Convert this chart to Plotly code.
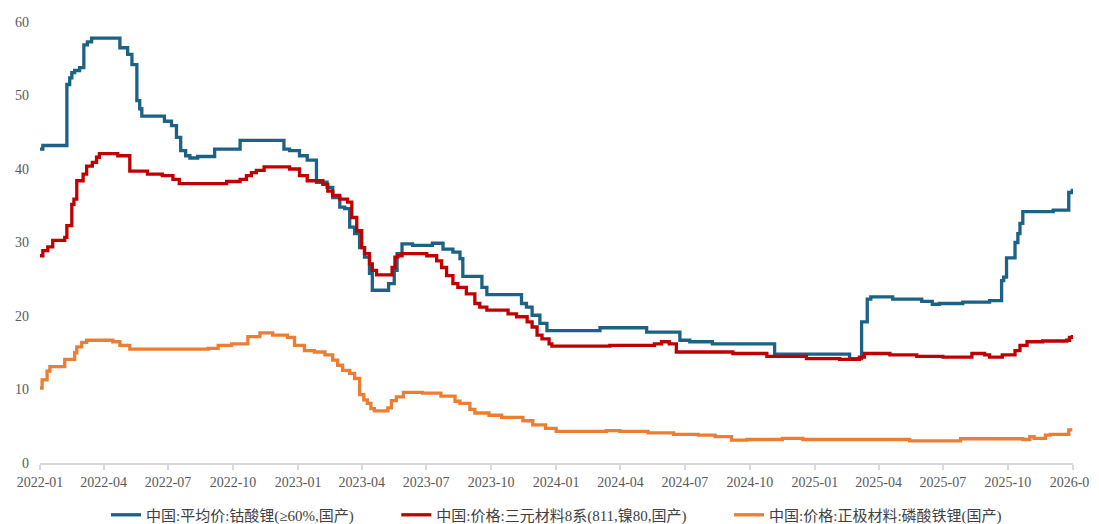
import plotly.graph_objects as go

# ---- data ----
cobalt_dates = ["2022-01-01","2022-01-05","2022-02-08","2022-02-12","2022-02-15","2022-02-19","2022-02-26","2022-03-04","2022-03-09","2022-03-15","2022-04-24","2022-05-05","2022-05-11","2022-05-18","2022-05-22","2022-05-25","2022-06-26","2022-07-06","2022-07-13","2022-07-19","2022-07-26","2022-08-01","2022-08-12","2022-09-05","2022-10-11","2022-12-12","2022-12-20","2023-01-03","2023-01-14","2023-01-27","2023-02-11","2023-02-19","2023-03-01","2023-03-08","2023-03-15","2023-03-22","2023-03-29","2023-04-05","2023-04-12","2023-04-16","2023-05-09","2023-05-17","2023-05-21","2023-05-28","2023-06-12","2023-07-10","2023-07-25","2023-08-08","2023-08-18","2023-08-22","2023-09-18","2023-09-25","2023-11-13","2023-11-20","2023-11-28","2023-12-09","2023-12-19","2024-03-03","2024-05-08","2024-06-24","2024-07-08","2024-08-09","2024-11-05","2025-02-19","2025-03-08","2025-03-16","2025-03-21","2025-04-21","2025-06-01","2025-06-16","2025-06-26","2025-07-29","2025-09-05","2025-09-22","2025-09-25","2025-09-29","2025-10-11","2025-10-15","2025-10-18","2025-10-22","2025-12-04","2025-12-26","2025-12-31"]
cobalt_values = [42.7,43.2,51.5,52.4,53.1,53.4,53.8,56.9,57.3,57.8,56.5,55.6,54.2,49.3,48.2,47.2,46.5,45.9,44.3,42.5,41.8,41.5,41.7,42.7,43.9,42.7,42.5,41.8,41.2,38.2,37.5,36.1,34.8,34.6,32.1,31.2,29.3,28.0,25.8,23.5,24.4,26.2,28.5,29.8,29.6,29.9,29.1,28.7,27.8,25.4,23.9,22.9,21.7,21.2,20.1,19.0,18.0,18.4,17.8,16.7,16.5,16.2,14.8,14.2,19.2,22.3,22.6,22.3,22.0,21.6,21.7,21.9,22.1,24.8,25.3,27.9,30.0,31.2,32.6,34.2,34.4,36.8,37.3]

ncm_dates = ["2022-01-01","2022-01-05","2022-01-12","2022-01-19","2022-02-05","2022-02-08","2022-02-15","2022-02-18","2022-02-22","2022-03-03","2022-03-08","2022-03-16","2022-03-22","2022-03-26","2022-04-21","2022-05-08","2022-06-02","2022-06-23","2022-07-08","2022-07-17","2022-09-22","2022-10-11","2022-10-20","2022-10-27","2022-11-03","2022-11-14","2022-12-20","2023-01-03","2023-01-14","2023-02-05","2023-02-12","2023-02-19","2023-03-01","2023-03-12","2023-03-18","2023-03-25","2023-04-01","2023-04-05","2023-04-12","2023-04-16","2023-04-22","2023-05-14","2023-05-18","2023-05-22","2023-05-28","2023-07-02","2023-07-16","2023-07-23","2023-07-30","2023-08-08","2023-08-15","2023-08-27","2023-09-08","2023-09-15","2023-09-25","2023-10-25","2023-11-06","2023-11-21","2023-11-28","2023-12-05","2023-12-12","2023-12-22","2023-12-26","2024-03-17","2024-05-19","2024-05-29","2024-06-09","2024-06-19","2024-09-07","2024-10-25","2024-12-20","2025-02-05","2025-03-05","2025-03-12","2025-04-17","2025-05-25","2025-07-01","2025-08-11","2025-08-29","2025-09-05","2025-09-23","2025-10-11","2025-10-18","2025-10-28","2025-11-19","2025-12-23","2025-12-27","2025-12-31"]
ncm_values = [28.2,28.9,29.4,30.3,30.7,32.3,35.2,35.9,38.4,39.3,40.4,40.9,41.6,42.1,41.8,39.7,39.3,39.1,38.6,38.0,38.3,38.6,39.1,39.5,39.8,40.3,40.0,39.1,38.4,37.9,37.0,36.4,35.9,35.5,33.4,31.6,29.3,28.5,27.1,26.2,25.6,26.6,28.0,28.2,28.5,28.2,27.5,26.6,25.5,24.4,23.9,23.0,21.7,21.2,20.8,20.3,19.9,19.2,18.5,17.4,16.9,16.2,15.9,16.0,16.2,16.5,16.2,15.1,14.9,14.5,14.2,14.1,14.4,14.9,14.7,14.5,14.4,14.9,14.7,14.4,14.7,15.3,16.0,16.5,16.6,16.7,17.1,17.4]

lfp_dates = ["2022-01-01","2022-01-04","2022-01-11","2022-01-15","2022-02-05","2022-02-19","2022-02-22","2022-03-01","2022-03-08","2022-04-14","2022-04-24","2022-05-08","2022-08-27","2022-09-10","2022-09-29","2022-10-22","2022-11-08","2022-11-26","2022-12-17","2022-12-27","2023-01-10","2023-01-24","2023-02-08","2023-02-19","2023-02-26","2023-03-05","2023-03-15","2023-03-22","2023-03-29","2023-04-04","2023-04-09","2023-04-14","2023-04-19","2023-05-08","2023-05-13","2023-05-20","2023-05-30","2023-06-26","2023-07-22","2023-08-11","2023-08-18","2023-09-01","2023-09-08","2023-09-28","2023-10-16","2023-11-15","2023-11-29","2023-12-17","2024-01-01","2024-03-12","2024-03-31","2024-05-10","2024-06-15","2024-07-20","2024-08-13","2024-09-05","2024-09-27","2024-11-16","2024-12-15","2025-05-15","2025-07-26","2025-10-22","2025-11-01","2025-11-07","2025-11-23","2025-11-30","2025-12-26","2025-12-31"]
lfp_values = [10.2,11.3,12.5,13.1,14.1,15.0,15.8,16.4,16.7,16.5,16.0,15.5,15.6,16.0,16.2,17.2,17.7,17.4,17.1,16.0,15.3,15.1,14.7,14.0,13.3,12.6,12.2,11.5,9.3,8.6,8.1,7.4,7.1,7.5,8.5,9.0,9.6,9.5,9.1,8.4,8.1,7.3,6.8,6.5,6.2,5.75,5.2,4.7,4.3,4.4,4.3,4.1,3.9,3.8,3.6,3.1,3.2,3.35,3.2,3.0,3.3,3.2,3.6,3.35,3.8,3.9,4.5,4.5]

series_names = ["中国:平均价:钴酸锂(≥60%,国产)", "中国:价格:三元材料8系(811,镍80,国产)", "中国:价格:正极材料:磷酸铁锂(国产)"]
series_colors = ["#1B6286", "#C00000", "#ED7D31"]

FONT = "Liberation Serif, Times New Roman, Noto Sans CJK SC, serif"
PAD = "\u00a0" * 10  # spacing between legend entries

fig = go.Figure()
for i, (name, color, xs, ys) in enumerate(zip(series_names, series_colors,
                               [cobalt_dates, ncm_dates, lfp_dates],
                               [cobalt_values, ncm_values, lfp_values])):
    label = name + (PAD if i < len(series_names) - 1 else "")
    fig.add_trace(go.Scatter(x=xs, y=ys, mode="lines", name=label,
                             line=dict(color=color, width=3.3, shape="hv")))

# page body has an 8px margin: figure drawn at (8, 8) in the 1099x524 window
fig.update_layout(
    width=1091, height=516,
    paper_bgcolor="white", plot_bgcolor="white",
    margin=dict(l=32, r=26, t=14, b=61, autoexpand=False),
    font=dict(family=FONT, size=14, color="#595959"),
    showlegend=True,
    legend=dict(orientation="h", x=0.5, xanchor="center", y=-0.118, yanchor="middle",
                font=dict(family=FONT, size=15, color="#404040"),
                tracegroupgap=0, bgcolor="rgba(0,0,0,0)"),
)
fig.update_xaxes(
    type="date", range=["2022-01-01", "2026-01-01"],
    dtick="M3", tick0="2022-01-01", tickformat="%Y-%m",
    showgrid=False, zeroline=False,
    showline=True, linecolor="#D9D9D9", linewidth=2,
    ticks="outside", ticklen=5, tickcolor="#D9D9D9", tickwidth=1.5,
    ticklabeloverflow="allow",
    tickfont=dict(family=FONT, size=14, color="#595959"),
)
fig.update_yaxes(
    range=[0, 60], dtick=10, showgrid=False, zeroline=False, showline=False,
    ticks="", ticklabelstandoff=10,
    tickfont=dict(family=FONT, size=14, color="#595959"),
)

fig.write_html("out.html")
